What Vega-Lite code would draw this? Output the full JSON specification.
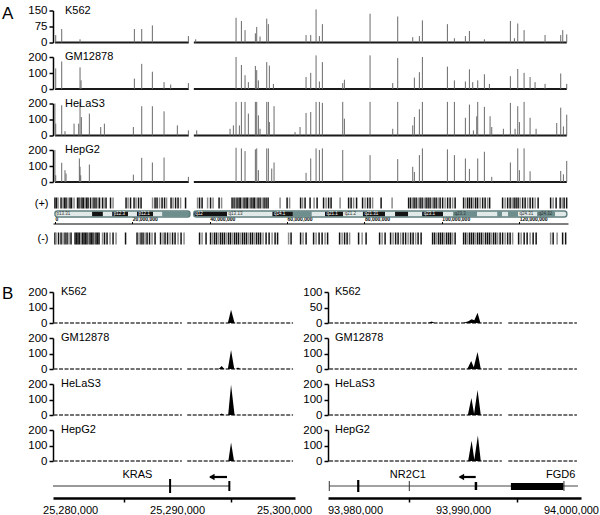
{
"$schema": "https://vega.github.io/schema/vega-lite/v6.json",
"padding": {"left": 2, "top": 4.5, "right": 0, "bottom": 0},
"background": "white",
"config": {
 "view": {"stroke": null},
 "font": "Liberation Sans",
 "axis": {"labelFont": "Liberation Sans", "labelColor": "black", "domainColor": "black", "tickColor": "black", "labelFlush": false, "labelOverlap": false, "grid": false, "labelFontSize": 11.5}
},
"datasets": {
 "spk": [
  {"t":"K","p":0.2,"v":35},{"t":"K","p":1.75,"v":63},{"t":"K","p":6.49,"v":15},{"t":"K","p":20.53,"v":63},{"t":"K","p":22.43,"v":63},{"t":"K","p":25.18,"v":80},{"t":"K","p":34.49,"v":30},{"t":"K","p":36.38,"v":15},{"t":"K","p":46.81,"v":116},{"t":"K","p":48.19,"v":101},{"t":"K","p":49.13,"v":58},{"t":"K","p":51.8,"v":43},{"t":"K","p":52.15,"v":73},{"t":"K","p":53.01,"v":28},{"t":"K","p":54.74,"v":112},{"t":"K","p":55.16,"v":86},{"t":"K","p":64.9,"v":35},{"t":"K","p":66.11,"v":35},{"t":"K","p":67.49,"v":155},{"t":"K","p":68.35,"v":30},{"t":"K","p":69.12,"v":86},{"t":"K","p":81.44,"v":135},{"t":"K","p":88.59,"v":122},{"t":"K","p":92.47,"v":25},{"t":"K","p":94.19,"v":30},{"t":"K","p":94.97,"v":104},{"t":"K","p":101.43,"v":86},{"t":"K","p":103.24,"v":20},{"t":"K","p":106.08,"v":30},{"t":"K","p":107.12,"v":54},{"t":"K","p":110.99,"v":15},{"t":"K","p":117.71,"v":101},{"t":"K","p":118.75,"v":20},{"t":"K","p":119.61,"v":89},{"t":"K","p":121.25,"v":58},{"t":"K","p":126.67,"v":35},{"t":"K","p":130.72,"v":35},{"t":"K","p":131.24,"v":58},{"t":"K","p":132.27,"v":38},
  {"t":"G","p":0.2,"v":129},{"t":"G","p":1.75,"v":172},{"t":"G","p":6.49,"v":135},{"t":"G","p":6.75,"v":54},{"t":"G","p":20.53,"v":65},{"t":"G","p":22.43,"v":157},{"t":"G","p":25.18,"v":108},{"t":"G","p":28.2,"v":43},{"t":"G","p":29.92,"v":28},{"t":"G","p":34.49,"v":37},{"t":"G","p":46.81,"v":200},{"t":"G","p":48.19,"v":150},{"t":"G","p":49.13,"v":86},{"t":"G","p":49.99,"v":43},{"t":"G","p":51.8,"v":144},{"t":"G","p":52.15,"v":118},{"t":"G","p":52.58,"v":54},{"t":"G","p":54.74,"v":168},{"t":"G","p":55.42,"v":146},{"t":"G","p":56.46,"v":32},{"t":"G","p":64.9,"v":75},{"t":"G","p":66.11,"v":101},{"t":"G","p":67.49,"v":210},{"t":"G","p":68.35,"v":47},{"t":"G","p":69.12,"v":168},{"t":"G","p":74.38,"v":37},{"t":"G","p":74.81,"v":58},{"t":"G","p":81.44,"v":210},{"t":"G","p":87.3,"v":37},{"t":"G","p":88.59,"v":193},{"t":"G","p":92.9,"v":71},{"t":"G","p":94.19,"v":105},{"t":"G","p":94.97,"v":200},{"t":"G","p":101.43,"v":140},{"t":"G","p":103.24,"v":54},{"t":"G","p":106.08,"v":47},{"t":"G","p":107.12,"v":123},{"t":"G","p":107.98,"v":43},{"t":"G","p":109.27,"v":54},{"t":"G","p":110.99,"v":92},{"t":"G","p":112.29,"v":32},{"t":"G","p":117.71,"v":80},{"t":"G","p":119.61,"v":125},{"t":"G","p":121.25,"v":101},{"t":"G","p":122.8,"v":75},{"t":"G","p":124.09,"v":43},{"t":"G","p":126.67,"v":32},{"t":"G","p":130.72,"v":97},{"t":"G","p":132.27,"v":32},
  {"t":"H","p":0.0,"v":200},{"t":"H","p":0.2,"v":74},{"t":"H","p":1.75,"v":189},{"t":"H","p":2.6,"v":27},{"t":"H","p":4.94,"v":74},{"t":"H","p":6.14,"v":74},{"t":"H","p":6.49,"v":210},{"t":"H","p":6.83,"v":115},{"t":"H","p":8.9,"v":137},{"t":"H","p":11.83,"v":53},{"t":"H","p":12.78,"v":74},{"t":"H","p":20.27,"v":53},{"t":"H","p":22.43,"v":183},{"t":"H","p":25.18,"v":183},{"t":"H","p":28.2,"v":151},{"t":"H","p":31.64,"v":63},{"t":"H","p":34.49,"v":32},{"t":"H","p":36.64,"v":32},{"t":"H","p":45.26,"v":42},{"t":"H","p":46.12,"v":63},{"t":"H","p":46.81,"v":210},{"t":"H","p":47.67,"v":63},{"t":"H","p":48.19,"v":210},{"t":"H","p":49.13,"v":210},{"t":"H","p":49.99,"v":137},{"t":"H","p":51.8,"v":210},{"t":"H","p":52.15,"v":210},{"t":"H","p":52.58,"v":126},{"t":"H","p":53.01,"v":42},{"t":"H","p":54.74,"v":210},{"t":"H","p":55.16,"v":210},{"t":"H","p":55.42,"v":84},{"t":"H","p":56.63,"v":183},{"t":"H","p":62.06,"v":21},{"t":"H","p":63.35,"v":53},{"t":"H","p":64.9,"v":141},{"t":"H","p":66.11,"v":147},{"t":"H","p":67.49,"v":210},{"t":"H","p":68.35,"v":210},{"t":"H","p":69.12,"v":204},{"t":"H","p":74.38,"v":210},{"t":"H","p":74.81,"v":105},{"t":"H","p":81.44,"v":210},{"t":"H","p":87.3,"v":42},{"t":"H","p":88.59,"v":210},{"t":"H","p":92.47,"v":63},{"t":"H","p":92.9,"v":116},{"t":"H","p":94.19,"v":164},{"t":"H","p":94.97,"v":210},{"t":"H","p":101.43,"v":210},{"t":"H","p":103.24,"v":210},{"t":"H","p":106.08,"v":111},{"t":"H","p":107.12,"v":193},{"t":"H","p":108.15,"v":32},{"t":"H","p":109.01,"v":120},{"t":"H","p":109.27,"v":210},{"t":"H","p":110.99,"v":179},{"t":"H","p":112.46,"v":120},{"t":"H","p":112.89,"v":53},{"t":"H","p":115.9,"v":42},{"t":"H","p":117.71,"v":204},{"t":"H","p":118.92,"v":42},{"t":"H","p":119.61,"v":183},{"t":"H","p":120.04,"v":84},{"t":"H","p":121.25,"v":210},{"t":"H","p":122.8,"v":111},{"t":"H","p":124.35,"v":42},{"t":"H","p":129.69,"v":78},{"t":"H","p":130.72,"v":174},{"t":"H","p":131.41,"v":57},{"t":"H","p":132.27,"v":130},
  {"t":"P","p":0.0,"v":200},{"t":"P","p":0.2,"v":42},{"t":"P","p":1.75,"v":120},{"t":"P","p":2.6,"v":74},{"t":"P","p":2.87,"v":53},{"t":"P","p":6.31,"v":147},{"t":"P","p":6.49,"v":95},{"t":"P","p":6.66,"v":42},{"t":"P","p":8.9,"v":109},{"t":"P","p":20.27,"v":46},{"t":"P","p":22.43,"v":151},{"t":"P","p":25.18,"v":122},{"t":"P","p":28.2,"v":153},{"t":"P","p":34.49,"v":32},{"t":"P","p":46.81,"v":214},{"t":"P","p":48.19,"v":210},{"t":"P","p":49.13,"v":193},{"t":"P","p":51.8,"v":204},{"t":"P","p":52.15,"v":210},{"t":"P","p":52.58,"v":74},{"t":"P","p":54.74,"v":210},{"t":"P","p":55.16,"v":210},{"t":"P","p":56.03,"v":84},{"t":"P","p":56.63,"v":122},{"t":"P","p":64.9,"v":57},{"t":"P","p":66.11,"v":147},{"t":"P","p":67.49,"v":210},{"t":"P","p":68.35,"v":200},{"t":"P","p":69.12,"v":210},{"t":"P","p":74.38,"v":200},{"t":"P","p":81.44,"v":168},{"t":"P","p":88.59,"v":143},{"t":"P","p":92.47,"v":95},{"t":"P","p":92.9,"v":63},{"t":"P","p":94.19,"v":168},{"t":"P","p":94.97,"v":210},{"t":"P","p":101.43,"v":204},{"t":"P","p":103.24,"v":168},{"t":"P","p":106.08,"v":147},{"t":"P","p":107.12,"v":82},{"t":"P","p":109.27,"v":147},{"t":"P","p":110.99,"v":189},{"t":"P","p":112.89,"v":32},{"t":"P","p":117.71,"v":122},{"t":"P","p":119.61,"v":210},{"t":"P","p":120.04,"v":74},{"t":"P","p":121.25,"v":210},{"t":"P","p":122.8,"v":67},{"t":"P","p":130.72,"v":69},{"t":"P","p":131.41,"v":48},{"t":"P","p":132.27,"v":132}
 ],
 "segA": [{"a":0,"b":34.6},{"a":35.9,"b":132.3}],
 "plus": [
  {"p":0.0,"g":0},{"p":0.41,"g":0},{"p":0.8,"g":1},{"p":1.58,"g":0},{"p":2.09,"g":1},{"p":2.48,"g":0},{"p":2.87,"g":0},{"p":3.39,"g":1},{"p":3.9,"g":0},{"p":4.29,"g":0},{"p":4.94,"g":1},{"p":5.84,"g":0},{"p":6.23,"g":0},{"p":6.62,"g":1},{"p":7.0,"g":0},{"p":7.39,"g":0},{"p":7.78,"g":1},{"p":8.17,"g":0},{"p":8.56,"g":0},{"p":9.2,"g":0},{"p":9.72,"g":1},{"p":10.11,"g":0},{"p":10.62,"g":0},{"p":11.14,"g":1},{"p":11.53,"g":0},{"p":12.3,"g":0},{"p":12.69,"g":1},{"p":13.21,"g":0},{"p":14.37,"g":0},{"p":15.02,"g":1},{"p":18.38,"g":0},{"p":18.9,"g":1},{"p":19.54,"g":0},{"p":20.45,"g":0},{"p":20.96,"g":1},{"p":21.61,"g":0},{"p":22.26,"g":0},{"p":25.23,"g":1},{"p":25.88,"g":0},{"p":26.39,"g":0},{"p":27.04,"g":1},{"p":27.69,"g":0},{"p":28.33,"g":0},{"p":28.85,"g":1},{"p":30.01,"g":0},{"p":30.53,"g":1},{"p":31.18,"g":0},{"p":31.82,"g":0},{"p":32.47,"g":1},{"p":33.76,"g":0},{"p":36.86,"g":1},{"p":37.38,"g":0},{"p":38.03,"g":0},{"p":39.45,"g":1},{"p":40.22,"g":0},{"p":40.87,"g":1},{"p":42.42,"g":0},{"p":43.07,"g":1},{"p":45.78,"g":0},{"p":46.3,"g":0},{"p":46.69,"g":1},{"p":47.07,"g":0},{"p":47.59,"g":0},{"p":47.98,"g":0},{"p":48.37,"g":1},{"p":48.88,"g":0},{"p":49.4,"g":0},{"p":49.79,"g":0},{"p":50.18,"g":1},{"p":50.69,"g":0},{"p":51.21,"g":0},{"p":51.6,"g":0},{"p":51.98,"g":1},{"p":52.5,"g":0},{"p":53.02,"g":0},{"p":53.54,"g":1},{"p":54.05,"g":0},{"p":54.57,"g":0},{"p":55.09,"g":0},{"p":58.19,"g":1},{"p":60.0,"g":0},{"p":60.65,"g":1},{"p":63.49,"g":0},{"p":64.0,"g":1},{"p":64.65,"g":0},{"p":65.94,"g":0},{"p":66.98,"g":1},{"p":67.76,"g":0},{"p":69.43,"g":0},{"p":70.08,"g":1},{"p":70.73,"g":0},{"p":71.37,"g":0},{"p":73.7,"g":1},{"p":75.9,"g":0},{"p":76.54,"g":0},{"p":77.19,"g":1},{"p":77.96,"g":0},{"p":79.51,"g":0},{"p":80.16,"g":1},{"p":80.81,"g":0},{"p":81.45,"g":0},{"p":82.1,"g":1},{"p":84.3,"g":0},{"p":87.14,"g":1},{"p":91.41,"g":0},{"p":91.92,"g":0},{"p":92.44,"g":1},{"p":92.83,"g":0},{"p":93.35,"g":0},{"p":93.86,"g":1},{"p":94.38,"g":0},{"p":94.9,"g":0},{"p":95.41,"g":1},{"p":95.93,"g":0},{"p":96.45,"g":0},{"p":96.96,"g":0},{"p":97.48,"g":1},{"p":98.0,"g":0},{"p":98.52,"g":0},{"p":99.03,"g":1},{"p":99.55,"g":0},{"p":100.2,"g":0},{"p":100.84,"g":1},{"p":101.49,"g":0},{"p":102.13,"g":0},{"p":102.78,"g":1},{"p":103.43,"g":0},{"p":105.62,"g":0},{"p":106.14,"g":1},{"p":106.66,"g":0},{"p":107.17,"g":0},{"p":107.69,"g":0},{"p":108.21,"g":1},{"p":108.73,"g":0},{"p":109.24,"g":0},{"p":109.89,"g":1},{"p":110.54,"g":0},{"p":111.18,"g":0},{"p":111.83,"g":1},{"p":112.35,"g":0},{"p":115.7,"g":0},{"p":116.35,"g":1},{"p":117.0,"g":0},{"p":117.64,"g":0},{"p":118.16,"g":1},{"p":118.68,"g":0},{"p":119.19,"g":0},{"p":119.71,"g":0},{"p":120.23,"g":1},{"p":120.88,"g":0},{"p":121.52,"g":0},{"p":122.17,"g":1},{"p":122.81,"g":0},{"p":123.46,"g":0},{"p":124.11,"g":1},{"p":124.88,"g":0},{"p":128.11,"g":0},{"p":128.76,"g":1},{"p":129.53,"g":0},{"p":130.57,"g":0},{"p":131.09,"g":1},{"p":131.6,"g":0},{"p":132.25,"g":0}
 ],
 "minus": [
  {"p":0.0,"g":0},{"p":0.28,"g":1},{"p":0.93,"g":0},{"p":1.58,"g":0},{"p":2.09,"g":1},{"p":2.61,"g":0},{"p":3.13,"g":0},{"p":3.64,"g":1},{"p":4.16,"g":0},{"p":5.2,"g":0},{"p":5.58,"g":0},{"p":5.97,"g":0},{"p":6.36,"g":0},{"p":6.75,"g":1},{"p":7.13,"g":0},{"p":7.52,"g":0},{"p":7.91,"g":0},{"p":8.3,"g":0},{"p":8.69,"g":1},{"p":9.07,"g":0},{"p":9.46,"g":0},{"p":9.85,"g":0},{"p":10.24,"g":1},{"p":10.62,"g":0},{"p":11.01,"g":0},{"p":11.4,"g":0},{"p":12.3,"g":1},{"p":12.82,"g":0},{"p":13.47,"g":0},{"p":14.24,"g":1},{"p":15.02,"g":0},{"p":15.79,"g":1},{"p":18.25,"g":0},{"p":21.22,"g":0},{"p":21.74,"g":1},{"p":22.26,"g":0},{"p":22.77,"g":0},{"p":23.29,"g":1},{"p":23.81,"g":0},{"p":24.45,"g":0},{"p":25.1,"g":1},{"p":25.88,"g":0},{"p":27.3,"g":0},{"p":27.94,"g":1},{"p":28.46,"g":0},{"p":29.11,"g":0},{"p":29.75,"g":1},{"p":30.4,"g":0},{"p":31.05,"g":0},{"p":31.82,"g":1},{"p":32.6,"g":0},{"p":33.37,"g":1},{"p":37.38,"g":0},{"p":38.03,"g":1},{"p":39.06,"g":0},{"p":40.22,"g":0},{"p":40.74,"g":1},{"p":41.26,"g":0},{"p":41.77,"g":0},{"p":42.29,"g":1},{"p":42.81,"g":0},{"p":43.32,"g":0},{"p":43.84,"g":0},{"p":44.36,"g":1},{"p":44.88,"g":0},{"p":45.39,"g":0},{"p":45.91,"g":1},{"p":46.43,"g":0},{"p":46.94,"g":0},{"p":47.46,"g":0},{"p":47.98,"g":1},{"p":48.49,"g":0},{"p":49.01,"g":0},{"p":49.53,"g":0},{"p":50.05,"g":1},{"p":50.56,"g":0},{"p":51.08,"g":0},{"p":51.6,"g":1},{"p":52.11,"g":0},{"p":52.63,"g":0},{"p":53.15,"g":0},{"p":53.79,"g":1},{"p":54.57,"g":0},{"p":55.35,"g":0},{"p":56.12,"g":1},{"p":56.9,"g":0},{"p":57.54,"g":0},{"p":60.39,"g":1},{"p":61.03,"g":0},{"p":63.49,"g":0},{"p":64.13,"g":1},{"p":64.91,"g":0},{"p":66.85,"g":0},{"p":67.5,"g":1},{"p":68.27,"g":0},{"p":69.05,"g":0},{"p":69.82,"g":1},{"p":70.47,"g":0},{"p":73.57,"g":0},{"p":74.22,"g":1},{"p":74.86,"g":0},{"p":75.51,"g":0},{"p":76.15,"g":1},{"p":78.48,"g":0},{"p":79.39,"g":1},{"p":80.42,"g":0},{"p":83.91,"g":0},{"p":84.56,"g":1},{"p":85.33,"g":0},{"p":86.75,"g":0},{"p":87.4,"g":1},{"p":88.05,"g":0},{"p":88.69,"g":0},{"p":89.34,"g":1},{"p":89.99,"g":0},{"p":90.63,"g":0},{"p":91.28,"g":1},{"p":91.92,"g":0},{"p":92.57,"g":0},{"p":93.22,"g":1},{"p":93.86,"g":0},{"p":94.64,"g":0},{"p":97.61,"g":0},{"p":98.13,"g":0},{"p":98.65,"g":1},{"p":99.16,"g":0},{"p":99.68,"g":0},{"p":100.2,"g":0},{"p":100.71,"g":1},{"p":101.23,"g":0},{"p":101.75,"g":0},{"p":102.26,"g":0},{"p":102.78,"g":1},{"p":103.43,"g":0},{"p":105.62,"g":0},{"p":106.14,"g":0},{"p":106.66,"g":1},{"p":107.17,"g":0},{"p":107.69,"g":0},{"p":108.21,"g":0},{"p":108.73,"g":1},{"p":109.24,"g":0},{"p":109.76,"g":0},{"p":110.28,"g":0},{"p":110.79,"g":1},{"p":111.31,"g":0},{"p":111.83,"g":0},{"p":112.35,"g":0},{"p":112.86,"g":1},{"p":113.38,"g":0},{"p":113.9,"g":0},{"p":114.41,"g":1},{"p":115.06,"g":0},{"p":115.7,"g":0},{"p":116.35,"g":1},{"p":117.0,"g":0},{"p":117.64,"g":0},{"p":118.29,"g":1},{"p":119.84,"g":0},{"p":120.49,"g":1},{"p":121.27,"g":0},{"p":122.04,"g":0},{"p":122.81,"g":1},{"p":123.59,"g":0},{"p":124.37,"g":0},{"p":128.11,"g":1},{"p":128.76,"g":0},{"p":129.79,"g":1},{"p":131.21,"g":0},{"p":131.99,"g":0}
 ],
 "bands": [
  {"a":0,"b":9.6,"k":"w","n":"p13.31"},{"a":9.6,"b":12.4,"k":"b","n":""},{"a":12.4,"b":14.8,"k":"w","n":""},{"a":14.8,"b":18.9,"k":"b","n":"p12.3"},{"a":18.9,"b":21.2,"k":"w","n":""},{"a":21.2,"b":25.4,"k":"b","n":"p12.1"},{"a":25.4,"b":27.7,"k":"w","n":""},{"a":27.7,"b":34.9,"k":"t","n":""},
  {"a":35.9,"b":44.5,"k":"b","n":"q12"},{"a":44.5,"b":56.2,"k":"w","n":"q13.13"},{"a":56.2,"b":61.5,"k":"b","n":"q14.1"},{"a":61.5,"b":66.4,"k":"t","n":""},{"a":66.4,"b":69.8,"k":"w","n":""},{"a":69.8,"b":74.5,"k":"b","n":"q21.1"},{"a":74.5,"b":79.6,"k":"w","n":"q21.2"},{"a":79.6,"b":85.3,"k":"b","n":"q21.31"},{"a":85.3,"b":87.9,"k":"w","n":""},{"a":87.9,"b":91.3,"k":"b","n":""},{"a":91.3,"b":94.9,"k":"w","n":""},{"a":94.9,"b":100.3,"k":"b","n":"q23.1"},{"a":100.3,"b":102.9,"k":"w","n":""},{"a":102.9,"b":109.1,"k":"t","n":"q23.3"},{"a":109.1,"b":114.3,"k":"w","n":""},{"a":114.3,"b":115.6,"k":"t","n":""},{"a":115.6,"b":117.1,"k":"w","n":""},{"a":117.1,"b":119.7,"k":"t","n":""},{"a":119.7,"b":124.6,"k":"w","n":"q24.31"},{"a":124.6,"b":129.3,"k":"t","n":"q24.32"},{"a":129.3,"b":132.3,"k":"w","n":""}
 ],
 "pk": [
  {"t":"LK","g":1,"x":25294750,"v":0},{"t":"LK","g":1,"x":25295050,"v":85},{"t":"LK","g":1,"x":25295380,"v":0},
  {"t":"LG","g":1,"x":25293900,"v":0},{"t":"LG","g":1,"x":25294170,"v":20},{"t":"LG","g":1,"x":25294420,"v":0},{"t":"LG","g":2,"x":25294750,"v":0},{"t":"LG","g":2,"x":25295050,"v":122},{"t":"LG","g":2,"x":25295350,"v":0},{"t":"LG","g":3,"x":25295500,"v":0},{"t":"LG","g":3,"x":25295700,"v":10},{"t":"LG","g":3,"x":25295900,"v":0},
  {"t":"LH","g":1,"x":25293950,"v":0},{"t":"LH","g":1,"x":25294170,"v":10},{"t":"LH","g":1,"x":25294400,"v":0},{"t":"LH","g":2,"x":25294780,"v":0},{"t":"LH","g":2,"x":25295050,"v":195},{"t":"LH","g":2,"x":25295380,"v":0},
  {"t":"LP","g":1,"x":25294800,"v":0},{"t":"LP","g":1,"x":25295050,"v":120},{"t":"LP","g":1,"x":25295330,"v":0},
  {"t":"RK","g":1,"x":93986800,"v":0},{"t":"RK","g":1,"x":93987100,"v":5},{"t":"RK","g":1,"x":93987400,"v":0},{"t":"RK","g":2,"x":93990000,"v":0},{"t":"RK","g":2,"x":93990500,"v":6},{"t":"RK","g":2,"x":93990800,"v":12},{"t":"RK","g":2,"x":93991050,"v":9},{"t":"RK","g":2,"x":93991350,"v":33},{"t":"RK","g":2,"x":93991620,"v":0},
  {"t":"RG","g":1,"x":93990400,"v":0},{"t":"RG","g":1,"x":93990760,"v":52},{"t":"RG","g":1,"x":93991000,"v":12},{"t":"RG","g":1,"x":93991350,"v":110},{"t":"RG","g":1,"x":93991650,"v":0},
  {"t":"RH","g":1,"x":93990450,"v":0},{"t":"RH","g":1,"x":93990780,"v":110},{"t":"RH","g":1,"x":93991030,"v":8},{"t":"RH","g":1,"x":93991350,"v":162},{"t":"RH","g":1,"x":93991650,"v":0},
  {"t":"RP","g":1,"x":93990480,"v":0},{"t":"RP","g":1,"x":93990800,"v":130},{"t":"RP","g":1,"x":93991050,"v":8},{"t":"RP","g":1,"x":93991380,"v":165},{"t":"RP","g":1,"x":93991650,"v":0}
 ],
 "segB": [{"c":"L","a":25278450,"b":25290450},{"c":"L","a":25290950,"b":25300850},{"c":"R","a":93977600,"b":93993600},{"c":"R","a":93994200,"b":94000550}]
},
"bounds": "flush",
"spacing": 14.5,
"vconcat": [
 {"width": 515, "height": 32, "layer": [
  {"data": {"name": "segA"}, "mark": {"type": "rule", "color": "#1a1a1a", "strokeWidth": 2.2},
   "encoding": {"x": {"field": "a", "type": "quantitative", "scale": {"domain": [-0.5, 132.6], "nice": false, "zero": false}, "axis": null}, "x2": {"field": "b"},
    "y": {"datum": 0, "type": "quantitative", "scale": {"domain": [0, 150], "nice": false}, "axis": {"values": [0, 75, 150], "tickCount": 10, "title": null, "domainWidth": 1.5, "tickWidth": 1.5, "tickSize": 4, "labelPadding": 2}}}},
  {"data": {"name": "spk"}, "transform": [{"filter": "datum.t == 'K'"}], "mark": {"type": "rule", "color": "#6a6a6a", "strokeWidth": 1},
   "encoding": {"x": {"field": "p", "type": "quantitative", "scale": {"domain": [-0.5, 132.6], "nice": false, "zero": false}, "axis": null},
    "y": {"field": "v", "type": "quantitative", "scale": {"domain": [0, 150], "nice": false}, "axis": {"title": null}}, "y2": {"datum": 0}}},
  {"data": {"values": [{}]}, "mark": {"type": "text", "text": "K562", "align": "left", "baseline": "middle", "fontSize": 11},
   "encoding": {"x": {"datum": 2.6, "type": "quantitative", "scale": {"domain": [-0.5, 132.6], "nice": false, "zero": false}, "axis": null}, "y": {"datum": 150, "type": "quantitative", "scale": {"domain": [0, 150], "nice": false}, "axis": {"title": null}}}},
  {"data": {"values": [{}]}, "mark": {"type": "text", "text": "A", "align": "left", "baseline": "alphabetic", "fontSize": 17, "dx": -51, "dy": 8.3},
   "encoding": {"x": {"datum": -0.5, "type": "quantitative", "scale": {"domain": [-0.5, 132.6], "nice": false, "zero": false}, "axis": null}, "y": {"datum": 150, "type": "quantitative", "scale": {"domain": [0, 150], "nice": false}, "axis": {"title": null}}}}
 ]},
 {"width": 515, "height": 32, "layer": [
  {"data": {"name": "segA"}, "mark": {"type": "rule", "color": "#1a1a1a", "strokeWidth": 2.2},
   "encoding": {"x": {"field": "a", "type": "quantitative", "scale": {"domain": [-0.5, 132.6], "nice": false, "zero": false}, "axis": null}, "x2": {"field": "b"},
    "y": {"datum": 0, "type": "quantitative", "scale": {"domain": [0, 200], "nice": false}, "axis": {"values": [0, 100, 200], "tickCount": 10, "title": null, "domainWidth": 1.5, "tickWidth": 1.5, "tickSize": 4, "labelPadding": 2}}}},
  {"data": {"name": "spk"}, "transform": [{"filter": "datum.t == 'G'"}], "mark": {"type": "rule", "color": "#6a6a6a", "strokeWidth": 1},
   "encoding": {"x": {"field": "p", "type": "quantitative", "scale": {"domain": [-0.5, 132.6], "nice": false, "zero": false}, "axis": null},
    "y": {"field": "v", "type": "quantitative", "scale": {"domain": [0, 200], "nice": false}, "axis": {"title": null}}, "y2": {"datum": 0}}},
  {"data": {"values": [{}]}, "mark": {"type": "text", "text": "GM12878", "align": "left", "baseline": "middle", "fontSize": 11},
   "encoding": {"x": {"datum": 2.6, "type": "quantitative", "scale": {"domain": [-0.5, 132.6], "nice": false, "zero": false}, "axis": null}, "y": {"datum": 200, "type": "quantitative", "scale": {"domain": [0, 200], "nice": false}, "axis": {"title": null}}}}
 ]},
 {"width": 515, "height": 32, "layer": [
  {"data": {"name": "segA"}, "mark": {"type": "rule", "color": "#1a1a1a", "strokeWidth": 2.2},
   "encoding": {"x": {"field": "a", "type": "quantitative", "scale": {"domain": [-0.5, 132.6], "nice": false, "zero": false}, "axis": null}, "x2": {"field": "b"},
    "y": {"datum": 0, "type": "quantitative", "scale": {"domain": [0, 200], "nice": false}, "axis": {"values": [0, 100, 200], "tickCount": 10, "title": null, "domainWidth": 1.5, "tickWidth": 1.5, "tickSize": 4, "labelPadding": 2}}}},
  {"data": {"name": "spk"}, "transform": [{"filter": "datum.t == 'H'"}], "mark": {"type": "rule", "color": "#6a6a6a", "strokeWidth": 1},
   "encoding": {"x": {"field": "p", "type": "quantitative", "scale": {"domain": [-0.5, 132.6], "nice": false, "zero": false}, "axis": null},
    "y": {"field": "v", "type": "quantitative", "scale": {"domain": [0, 200], "nice": false}, "axis": {"title": null}}, "y2": {"datum": 0}}},
  {"data": {"values": [{}]}, "mark": {"type": "text", "text": "HeLaS3", "align": "left", "baseline": "middle", "fontSize": 11},
   "encoding": {"x": {"datum": 2.6, "type": "quantitative", "scale": {"domain": [-0.5, 132.6], "nice": false, "zero": false}, "axis": null}, "y": {"datum": 200, "type": "quantitative", "scale": {"domain": [0, 200], "nice": false}, "axis": {"title": null}}}}
 ]},
 {"width": 515, "height": 32, "layer": [
  {"data": {"name": "segA"}, "mark": {"type": "rule", "color": "#1a1a1a", "strokeWidth": 2.2},
   "encoding": {"x": {"field": "a", "type": "quantitative", "scale": {"domain": [-0.5, 132.6], "nice": false, "zero": false}, "axis": null}, "x2": {"field": "b"},
    "y": {"datum": 0, "type": "quantitative", "scale": {"domain": [0, 200], "nice": false}, "axis": {"values": [0, 100, 200], "tickCount": 10, "title": null, "domainWidth": 1.5, "tickWidth": 1.5, "tickSize": 4, "labelPadding": 2}}}},
  {"data": {"name": "spk"}, "transform": [{"filter": "datum.t == 'P'"}], "mark": {"type": "rule", "color": "#6a6a6a", "strokeWidth": 1},
   "encoding": {"x": {"field": "p", "type": "quantitative", "scale": {"domain": [-0.5, 132.6], "nice": false, "zero": false}, "axis": null},
    "y": {"field": "v", "type": "quantitative", "scale": {"domain": [0, 200], "nice": false}, "axis": {"title": null}}, "y2": {"datum": 0}}},
  {"data": {"values": [{}]}, "mark": {"type": "text", "text": "HepG2", "align": "left", "baseline": "middle", "fontSize": 11},
   "encoding": {"x": {"datum": 2.6, "type": "quantitative", "scale": {"domain": [-0.5, 132.6], "nice": false, "zero": false}, "axis": null}, "y": {"datum": 200, "type": "quantitative", "scale": {"domain": [0, 200], "nice": false}, "axis": {"title": null}}}}
 ]},
 {"width": 515, "height": 80.5, "layer": [
  {"data": {"name": "plus"}, "mark": {"type": "rule", "strokeWidth": 1.5},
   "encoding": {"x": {"field": "p", "type": "quantitative", "scale": {"domain": [-0.5, 132.6], "nice": false, "zero": false},
     "axis": {"orient": "top", "offset": -27, "values": [0, 20, 40, 60, 80, 100, 120], "labelExpr": "format(datum.value*1000000, ',')", "labelAlign": "left", "labelFontSize": 5, "labelFontWeight": "bold", "labelPadding": 0, "tickSize": 2, "domainWidth": 1, "title": null}},
    "y": {"datum": 47, "type": "quantitative", "scale": {"domain": [-32.5, 48], "nice": false, "zero": false},
     "axis": {"values": [41.5, 6], "tickCount": 10, "labelExpr": "datum.value > 20 ? '(+)' : '(-)'", "domain": false, "ticks": false, "labelPadding": 5, "labelFontSize": 11, "title": null}},
    "y2": {"datum": 36},
    "stroke": {"field": "g", "type": "nominal", "scale": {"domain": [0, 1], "range": ["#141414", "#8c8c8c"]}, "legend": null}}},
  {"data": {"name": "minus"}, "mark": {"type": "rule", "strokeWidth": 1.5},
   "encoding": {"x": {"field": "p", "type": "quantitative", "scale": {"domain": [-0.5, 132.6], "nice": false, "zero": false}, "axis": {"title": null}},
    "y": {"datum": 12, "type": "quantitative", "scale": {"domain": [-32.5, 48], "nice": false, "zero": false}, "axis": {"title": null}},
    "y2": {"datum": 0},
    "stroke": {"field": "g", "type": "nominal", "scale": {"domain": [0, 1], "range": ["#141414", "#8c8c8c"]}, "legend": null}}},
  {"data": {"name": "bands"}, "mark": {"type": "rect"},
   "encoding": {"x": {"field": "a", "type": "quantitative", "scale": {"domain": [-0.5, 132.6], "nice": false, "zero": false}, "axis": {"title": null}}, "x2": {"field": "b"},
    "y": {"datum": 33, "type": "quantitative", "scale": {"domain": [-32.5, 48], "nice": false, "zero": false}, "axis": {"title": null}}, "y2": {"datum": 28},
    "fill": {"field": "k", "type": "nominal", "scale": {"domain": ["w", "b", "t"], "range": ["#e2e9e9", "#141414", "#6e8e8e"]}, "legend": null}}},
  {"data": {"values": [{"a": 0, "b": 34.9}, {"a": 35.9, "b": 132.3}]}, "mark": {"type": "rect", "filled": false, "color": "#5d7d7d", "strokeWidth": 1.4, "cornerRadius": 2.5},
   "encoding": {"x": {"field": "a", "type": "quantitative", "scale": {"domain": [-0.5, 132.6], "nice": false, "zero": false}, "axis": {"title": null}}, "x2": {"field": "b"},
    "y": {"datum": 33.5, "type": "quantitative", "scale": {"domain": [-32.5, 48], "nice": false, "zero": false}, "axis": {"title": null}}, "y2": {"datum": 27.5}}},
  {"data": {"name": "bands"}, "transform": [{"filter": "datum.n != ''"}], "mark": {"type": "text", "fontSize": 4.5, "align": "left", "baseline": "middle", "dx": 1.5},
   "encoding": {"x": {"field": "a", "type": "quantitative", "scale": {"domain": [-0.5, 132.6], "nice": false, "zero": false}, "axis": {"title": null}},
    "y": {"datum": 30.5, "type": "quantitative", "scale": {"domain": [-32.5, 48], "nice": false, "zero": false}, "axis": {"title": null}},
    "text": {"field": "n"},
    "color": {"condition": {"test": "datum.k == 'b'", "value": "white"}, "value": "#333333"}}}
 ]},
 {"columns": 2, "bounds": "flush", "spacing": {"row": 15, "column": 33}, "concat": [
  {"width": 242, "height": 31, "layer": [
   {"data": {"name": "segB"}, "transform": [{"filter": "datum.c == 'L'"}], "mark": {"type": "rule", "color": "#444444", "strokeWidth": 1.6, "strokeDash": [4, 1.5]},
    "encoding": {"x": {"field": "a", "type": "quantitative", "scale": {"domain": [25278400, 25301030], "nice": false, "zero": false}, "axis": null}, "x2": {"field": "b"},
     "y": {"datum": 0, "type": "quantitative", "scale": {"domain": [0, 200], "nice": false}, "axis": {"values": [0, 100, 200], "tickCount": 10, "title": null, "domainWidth": 1.5, "tickWidth": 1.5, "tickSize": 4, "labelPadding": 2}}}},
   {"data": {"name": "pk"}, "transform": [{"filter": "datum.t == 'LK'"}], "mark": {"type": "area", "color": "black"},
    "encoding": {"x": {"field": "x", "type": "quantitative", "scale": {"domain": [25278400, 25301030], "nice": false, "zero": false}, "axis": null},
     "y": {"field": "v", "type": "quantitative", "scale": {"domain": [0, 200], "nice": false}, "axis": {"title": null}}, "detail": {"field": "g"}}},
   {"data": {"values": [{}]}, "mark": {"type": "text", "text": "K562", "align": "left", "baseline": "middle", "fontSize": 11},
    "encoding": {"x": {"datum": 25279150, "type": "quantitative", "scale": {"domain": [25278400, 25301030], "nice": false, "zero": false}, "axis": null}, "y": {"datum": 200, "type": "quantitative", "scale": {"domain": [0, 200], "nice": false}, "axis": {"title": null}}}},
   {"data": {"values": [{}]}, "mark": {"type": "text", "text": "B", "align": "left", "baseline": "alphabetic", "fontSize": 17, "dx": -51, "dy": 7.3},
    "encoding": {"x": {"datum": 25278400, "type": "quantitative", "scale": {"domain": [25278400, 25301030], "nice": false, "zero": false}, "axis": null}, "y": {"datum": 200, "type": "quantitative", "scale": {"domain": [0, 200], "nice": false}, "axis": {"title": null}}}}
  ]},
  {"width": 253, "height": 31, "layer": [
   {"data": {"name": "segB"}, "transform": [{"filter": "datum.c == 'R'"}], "mark": {"type": "rule", "color": "#444444", "strokeWidth": 1.6, "strokeDash": [4, 1.5]},
    "encoding": {"x": {"field": "a", "type": "quantitative", "scale": {"domain": [93977500, 94000930], "nice": false, "zero": false}, "axis": null}, "x2": {"field": "b"},
     "y": {"datum": 0, "type": "quantitative", "scale": {"domain": [0, 100], "nice": false}, "axis": {"values": [0, 50, 100], "tickCount": 10, "title": null, "domainWidth": 1.5, "tickWidth": 1.5, "tickSize": 4, "labelPadding": 2}}}},
   {"data": {"name": "pk"}, "transform": [{"filter": "datum.t == 'RK'"}], "mark": {"type": "area", "color": "black"},
    "encoding": {"x": {"field": "x", "type": "quantitative", "scale": {"domain": [93977500, 94000930], "nice": false, "zero": false}, "axis": null},
     "y": {"field": "v", "type": "quantitative", "scale": {"domain": [0, 100], "nice": false}, "axis": {"title": null}}, "detail": {"field": "g"}}},
   {"data": {"values": [{}]}, "mark": {"type": "text", "text": "K562", "align": "left", "baseline": "middle", "fontSize": 11},
    "encoding": {"x": {"datum": 93978150, "type": "quantitative", "scale": {"domain": [93977500, 94000930], "nice": false, "zero": false}, "axis": null}, "y": {"datum": 100, "type": "quantitative", "scale": {"domain": [0, 100], "nice": false}, "axis": {"title": null}}}}
  ]},
  {"width": 242, "height": 31, "layer": [
   {"data": {"name": "segB"}, "transform": [{"filter": "datum.c == 'L'"}], "mark": {"type": "rule", "color": "#444444", "strokeWidth": 1.6, "strokeDash": [4, 1.5]},
    "encoding": {"x": {"field": "a", "type": "quantitative", "scale": {"domain": [25278400, 25301030], "nice": false, "zero": false}, "axis": null}, "x2": {"field": "b"},
     "y": {"datum": 0, "type": "quantitative", "scale": {"domain": [0, 200], "nice": false}, "axis": {"values": [0, 100, 200], "tickCount": 10, "title": null, "domainWidth": 1.5, "tickWidth": 1.5, "tickSize": 4, "labelPadding": 2}}}},
   {"data": {"name": "pk"}, "transform": [{"filter": "datum.t == 'LG'"}], "mark": {"type": "area", "color": "black"},
    "encoding": {"x": {"field": "x", "type": "quantitative", "scale": {"domain": [25278400, 25301030], "nice": false, "zero": false}, "axis": null},
     "y": {"field": "v", "type": "quantitative", "scale": {"domain": [0, 200], "nice": false}, "axis": {"title": null}}, "detail": {"field": "g"}}},
   {"data": {"values": [{}]}, "mark": {"type": "text", "text": "GM12878", "align": "left", "baseline": "middle", "fontSize": 11},
    "encoding": {"x": {"datum": 25279150, "type": "quantitative", "scale": {"domain": [25278400, 25301030], "nice": false, "zero": false}, "axis": null}, "y": {"datum": 200, "type": "quantitative", "scale": {"domain": [0, 200], "nice": false}, "axis": {"title": null}}}}
  ]},
  {"width": 253, "height": 31, "layer": [
   {"data": {"name": "segB"}, "transform": [{"filter": "datum.c == 'R'"}], "mark": {"type": "rule", "color": "#444444", "strokeWidth": 1.6, "strokeDash": [4, 1.5]},
    "encoding": {"x": {"field": "a", "type": "quantitative", "scale": {"domain": [93977500, 94000930], "nice": false, "zero": false}, "axis": null}, "x2": {"field": "b"},
     "y": {"datum": 0, "type": "quantitative", "scale": {"domain": [0, 200], "nice": false}, "axis": {"values": [0, 100, 200], "tickCount": 10, "title": null, "domainWidth": 1.5, "tickWidth": 1.5, "tickSize": 4, "labelPadding": 2}}}},
   {"data": {"name": "pk"}, "transform": [{"filter": "datum.t == 'RG'"}], "mark": {"type": "area", "color": "black"},
    "encoding": {"x": {"field": "x", "type": "quantitative", "scale": {"domain": [93977500, 94000930], "nice": false, "zero": false}, "axis": null},
     "y": {"field": "v", "type": "quantitative", "scale": {"domain": [0, 200], "nice": false}, "axis": {"title": null}}, "detail": {"field": "g"}}},
   {"data": {"values": [{}]}, "mark": {"type": "text", "text": "GM12878", "align": "left", "baseline": "middle", "fontSize": 11},
    "encoding": {"x": {"datum": 93978150, "type": "quantitative", "scale": {"domain": [93977500, 94000930], "nice": false, "zero": false}, "axis": null}, "y": {"datum": 200, "type": "quantitative", "scale": {"domain": [0, 200], "nice": false}, "axis": {"title": null}}}}
  ]},
  {"width": 242, "height": 31, "layer": [
   {"data": {"name": "segB"}, "transform": [{"filter": "datum.c == 'L'"}], "mark": {"type": "rule", "color": "#444444", "strokeWidth": 1.6, "strokeDash": [4, 1.5]},
    "encoding": {"x": {"field": "a", "type": "quantitative", "scale": {"domain": [25278400, 25301030], "nice": false, "zero": false}, "axis": null}, "x2": {"field": "b"},
     "y": {"datum": 0, "type": "quantitative", "scale": {"domain": [0, 200], "nice": false}, "axis": {"values": [0, 100, 200], "tickCount": 10, "title": null, "domainWidth": 1.5, "tickWidth": 1.5, "tickSize": 4, "labelPadding": 2}}}},
   {"data": {"name": "pk"}, "transform": [{"filter": "datum.t == 'LH'"}], "mark": {"type": "area", "color": "black"},
    "encoding": {"x": {"field": "x", "type": "quantitative", "scale": {"domain": [25278400, 25301030], "nice": false, "zero": false}, "axis": null},
     "y": {"field": "v", "type": "quantitative", "scale": {"domain": [0, 200], "nice": false}, "axis": {"title": null}}, "detail": {"field": "g"}}},
   {"data": {"values": [{}]}, "mark": {"type": "text", "text": "HeLaS3", "align": "left", "baseline": "middle", "fontSize": 11},
    "encoding": {"x": {"datum": 25279150, "type": "quantitative", "scale": {"domain": [25278400, 25301030], "nice": false, "zero": false}, "axis": null}, "y": {"datum": 200, "type": "quantitative", "scale": {"domain": [0, 200], "nice": false}, "axis": {"title": null}}}}
  ]},
  {"width": 253, "height": 31, "layer": [
   {"data": {"name": "segB"}, "transform": [{"filter": "datum.c == 'R'"}], "mark": {"type": "rule", "color": "#444444", "strokeWidth": 1.6, "strokeDash": [4, 1.5]},
    "encoding": {"x": {"field": "a", "type": "quantitative", "scale": {"domain": [93977500, 94000930], "nice": false, "zero": false}, "axis": null}, "x2": {"field": "b"},
     "y": {"datum": 0, "type": "quantitative", "scale": {"domain": [0, 200], "nice": false}, "axis": {"values": [0, 100, 200], "tickCount": 10, "title": null, "domainWidth": 1.5, "tickWidth": 1.5, "tickSize": 4, "labelPadding": 2}}}},
   {"data": {"name": "pk"}, "transform": [{"filter": "datum.t == 'RH'"}], "mark": {"type": "area", "color": "black"},
    "encoding": {"x": {"field": "x", "type": "quantitative", "scale": {"domain": [93977500, 94000930], "nice": false, "zero": false}, "axis": null},
     "y": {"field": "v", "type": "quantitative", "scale": {"domain": [0, 200], "nice": false}, "axis": {"title": null}}, "detail": {"field": "g"}}},
   {"data": {"values": [{}]}, "mark": {"type": "text", "text": "HeLaS3", "align": "left", "baseline": "middle", "fontSize": 11},
    "encoding": {"x": {"datum": 93978150, "type": "quantitative", "scale": {"domain": [93977500, 94000930], "nice": false, "zero": false}, "axis": null}, "y": {"datum": 200, "type": "quantitative", "scale": {"domain": [0, 200], "nice": false}, "axis": {"title": null}}}}
  ]},
  {"width": 242, "height": 31, "layer": [
   {"data": {"name": "segB"}, "transform": [{"filter": "datum.c == 'L'"}], "mark": {"type": "rule", "color": "#444444", "strokeWidth": 1.6, "strokeDash": [4, 1.5]},
    "encoding": {"x": {"field": "a", "type": "quantitative", "scale": {"domain": [25278400, 25301030], "nice": false, "zero": false}, "axis": null}, "x2": {"field": "b"},
     "y": {"datum": 0, "type": "quantitative", "scale": {"domain": [0, 200], "nice": false}, "axis": {"values": [0, 100, 200], "tickCount": 10, "title": null, "domainWidth": 1.5, "tickWidth": 1.5, "tickSize": 4, "labelPadding": 2}}}},
   {"data": {"name": "pk"}, "transform": [{"filter": "datum.t == 'LP'"}], "mark": {"type": "area", "color": "black"},
    "encoding": {"x": {"field": "x", "type": "quantitative", "scale": {"domain": [25278400, 25301030], "nice": false, "zero": false}, "axis": null},
     "y": {"field": "v", "type": "quantitative", "scale": {"domain": [0, 200], "nice": false}, "axis": {"title": null}}, "detail": {"field": "g"}}},
   {"data": {"values": [{}]}, "mark": {"type": "text", "text": "HepG2", "align": "left", "baseline": "middle", "fontSize": 11},
    "encoding": {"x": {"datum": 25279150, "type": "quantitative", "scale": {"domain": [25278400, 25301030], "nice": false, "zero": false}, "axis": null}, "y": {"datum": 200, "type": "quantitative", "scale": {"domain": [0, 200], "nice": false}, "axis": {"title": null}}}}
  ]},
  {"width": 253, "height": 31, "layer": [
   {"data": {"name": "segB"}, "transform": [{"filter": "datum.c == 'R'"}], "mark": {"type": "rule", "color": "#444444", "strokeWidth": 1.6, "strokeDash": [4, 1.5]},
    "encoding": {"x": {"field": "a", "type": "quantitative", "scale": {"domain": [93977500, 94000930], "nice": false, "zero": false}, "axis": null}, "x2": {"field": "b"},
     "y": {"datum": 0, "type": "quantitative", "scale": {"domain": [0, 200], "nice": false}, "axis": {"values": [0, 100, 200], "tickCount": 10, "title": null, "domainWidth": 1.5, "tickWidth": 1.5, "tickSize": 4, "labelPadding": 2}}}},
   {"data": {"name": "pk"}, "transform": [{"filter": "datum.t == 'RP'"}], "mark": {"type": "area", "color": "black"},
    "encoding": {"x": {"field": "x", "type": "quantitative", "scale": {"domain": [93977500, 94000930], "nice": false, "zero": false}, "axis": null},
     "y": {"field": "v", "type": "quantitative", "scale": {"domain": [0, 200], "nice": false}, "axis": {"title": null}}, "detail": {"field": "g"}}},
   {"data": {"values": [{}]}, "mark": {"type": "text", "text": "HepG2", "align": "left", "baseline": "middle", "fontSize": 11},
    "encoding": {"x": {"datum": 93978150, "type": "quantitative", "scale": {"domain": [93977500, 94000930], "nice": false, "zero": false}, "axis": null}, "y": {"datum": 200, "type": "quantitative", "scale": {"domain": [0, 200], "nice": false}, "axis": {"title": null}}}}
  ]},
  {"width": 242, "height": 22, "layer": [
   {"data": {"values": [{"a": 25278400, "b": 25294890}]}, "mark": {"type": "rule", "color": "#333333", "strokeWidth": 1},
    "encoding": {"x": {"field": "a", "type": "quantitative", "scale": {"domain": [25278400, 25301030], "nice": false, "zero": false},
      "axis": {"values": [25280000, 25285000, 25290000, 25295000, 25300000], "tickCount": 10, "labelExpr": "datum.value % 10000 === 0 ? format(datum.value, ',') : ''", "tickColor": {"condition": {"test": "datum.value % 10000 === 0", "value": "transparent"}, "value": "black"}, "domainWidth": 2.5, "tickWidth": 1.5, "tickSize": 4, "labelPadding": 2, "labelFontSize": 11, "title": null}},
     "x2": {"field": "b"},
     "y": {"datum": 12, "type": "quantitative", "scale": {"domain": [0, 22], "nice": false}, "axis": null}}},
   {"data": {"values": [{"p": 25289350}]}, "mark": {"type": "rule", "color": "black", "strokeWidth": 2},
    "encoding": {"x": {"field": "p", "type": "quantitative", "scale": {"domain": [25278400, 25301030], "nice": false, "zero": false}, "axis": {"title": null}},
     "y": {"datum": 5, "type": "quantitative", "scale": {"domain": [0, 22], "nice": false}, "axis": null}, "y2": {"datum": 19}}},
   {"data": {"values": [{"p": 25294890}]}, "mark": {"type": "rule", "color": "black", "strokeWidth": 2},
    "encoding": {"x": {"field": "p", "type": "quantitative", "scale": {"domain": [25278400, 25301030], "nice": false, "zero": false}, "axis": {"title": null}},
     "y": {"datum": 7, "type": "quantitative", "scale": {"domain": [0, 22], "nice": false}, "axis": null}, "y2": {"datum": 17}}},
   {"data": {"values": [{"a": 25293100, "b": 25294670}]}, "mark": {"type": "rule", "color": "black", "strokeWidth": 2.2},
    "encoding": {"x": {"field": "a", "type": "quantitative", "scale": {"domain": [25278400, 25301030], "nice": false, "zero": false}, "axis": {"title": null}}, "x2": {"field": "b"},
     "y": {"datum": 21, "type": "quantitative", "scale": {"domain": [0, 22], "nice": false}, "axis": null}}},
   {"data": {"values": [{"a": 25293250}]}, "mark": {"type": "point", "shape": "triangle-left", "filled": true, "color": "black", "size": 40, "opacity": 1},
    "encoding": {"x": {"field": "a", "type": "quantitative", "scale": {"domain": [25278400, 25301030], "nice": false, "zero": false}, "axis": {"title": null}},
     "y": {"datum": 21, "type": "quantitative", "scale": {"domain": [0, 22], "nice": false}, "axis": null}}},
   {"data": {"values": [{"a": 25286290, "n": "KRAS"}]}, "mark": {"type": "text", "fontSize": 11, "baseline": "alphabetic", "align": "center"},
    "encoding": {"x": {"field": "a", "type": "quantitative", "scale": {"domain": [25278400, 25301030], "nice": false, "zero": false}, "axis": {"title": null}},
     "y": {"datum": 20, "type": "quantitative", "scale": {"domain": [0, 22], "nice": false}, "axis": null}, "text": {"field": "n"}}}
  ]},
  {"width": 253, "height": 22, "layer": [
   {"data": {"values": [{"a": 93977620, "b": 94000650}]}, "mark": {"type": "rule", "color": "#444444", "strokeWidth": 1},
    "encoding": {"x": {"field": "a", "type": "quantitative", "scale": {"domain": [93977500, 94000930], "nice": false, "zero": false},
      "axis": {"values": [93980000, 93985000, 93990000, 93995000, 94000000], "tickCount": 10, "labelExpr": "datum.value % 10000 === 0 ? format(datum.value, ',') : ''", "tickColor": {"condition": {"test": "datum.value % 10000 === 0", "value": "transparent"}, "value": "black"}, "domainWidth": 2.5, "tickWidth": 1.5, "tickSize": 4, "labelPadding": 2, "labelFontSize": 11, "title": null}},
     "x2": {"field": "b"},
     "y": {"datum": 12, "type": "quantitative", "scale": {"domain": [0, 22], "nice": false}, "axis": null}}},
   {"data": {"values": [{"p": 93977620}, {"p": 93985030}, {"p": 93999350}]}, "mark": {"type": "rule", "color": "#333333", "strokeWidth": 1},
    "encoding": {"x": {"field": "p", "type": "quantitative", "scale": {"domain": [93977500, 94000930], "nice": false, "zero": false}, "axis": {"title": null}},
     "y": {"datum": 7, "type": "quantitative", "scale": {"domain": [0, 22], "nice": false}, "axis": null}, "y2": {"datum": 17}}},
   {"data": {"values": [{"p": 93980300}]}, "mark": {"type": "rule", "color": "black", "strokeWidth": 2.2},
    "encoding": {"x": {"field": "p", "type": "quantitative", "scale": {"domain": [93977500, 94000930], "nice": false, "zero": false}, "axis": {"title": null}},
     "y": {"datum": 6, "type": "quantitative", "scale": {"domain": [0, 22], "nice": false}, "axis": null}, "y2": {"datum": 18}}},
   {"data": {"values": [{"p": 93991200}]}, "mark": {"type": "rule", "color": "black", "strokeWidth": 2.5},
    "encoding": {"x": {"field": "p", "type": "quantitative", "scale": {"domain": [93977500, 94000930], "nice": false, "zero": false}, "axis": {"title": null}},
     "y": {"datum": 8, "type": "quantitative", "scale": {"domain": [0, 22], "nice": false}, "axis": null}, "y2": {"datum": 16}}},
   {"data": {"values": [{"a": 93994440, "b": 93999290}]}, "mark": {"type": "rect", "color": "black"},
    "encoding": {"x": {"field": "a", "type": "quantitative", "scale": {"domain": [93977500, 94000930], "nice": false, "zero": false}, "axis": {"title": null}}, "x2": {"field": "b"},
     "y": {"datum": 8, "type": "quantitative", "scale": {"domain": [0, 22], "nice": false}, "axis": null}, "y2": {"datum": 15}}},
   {"data": {"values": [{"a": 93989700, "b": 93991180}]}, "mark": {"type": "rule", "color": "black", "strokeWidth": 2.2},
    "encoding": {"x": {"field": "a", "type": "quantitative", "scale": {"domain": [93977500, 94000930], "nice": false, "zero": false}, "axis": {"title": null}}, "x2": {"field": "b"},
     "y": {"datum": 21, "type": "quantitative", "scale": {"domain": [0, 22], "nice": false}, "axis": null}}},
   {"data": {"values": [{"a": 93989850}]}, "mark": {"type": "point", "shape": "triangle-left", "filled": true, "color": "black", "size": 40, "opacity": 1},
    "encoding": {"x": {"field": "a", "type": "quantitative", "scale": {"domain": [93977500, 94000930], "nice": false, "zero": false}, "axis": {"title": null}},
     "y": {"datum": 21, "type": "quantitative", "scale": {"domain": [0, 22], "nice": false}, "axis": null}}},
   {"data": {"values": [{"a": 93984900, "n": "NR2C1"}, {"a": 93999050, "n": "FGD6"}]}, "mark": {"type": "text", "fontSize": 11, "baseline": "alphabetic", "align": "center"},
    "encoding": {"x": {"field": "a", "type": "quantitative", "scale": {"domain": [93977500, 94000930], "nice": false, "zero": false}, "axis": {"title": null}},
     "y": {"datum": 20, "type": "quantitative", "scale": {"domain": [0, 22], "nice": false}, "axis": null}, "text": {"field": "n"}}}
  ]}
 ]}
]
}
